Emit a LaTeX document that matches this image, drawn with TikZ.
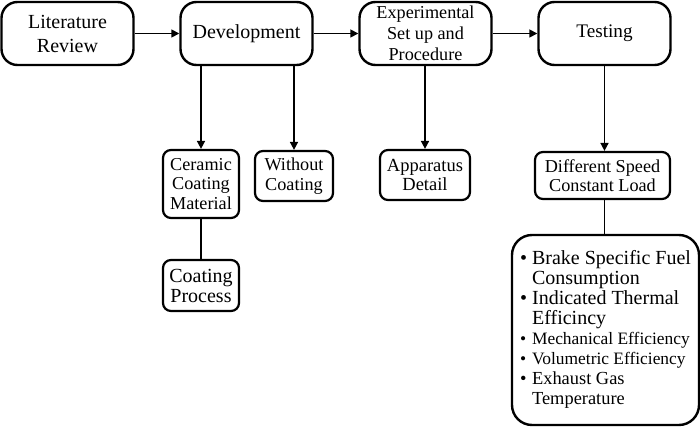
\documentclass[tikz,border=0pt]{standalone}
\usepackage{fontspec}
\setmainfont{Liberation Serif}
\usetikzlibrary{arrows.meta}
\def\fs#1#2{\fontsize{#1}{#2}\selectfont}

\begin{document}
\begin{tikzpicture}[x=0.5pt,y=-0.5pt,->,>={Stealth[inset=0pt,length=4pt,width=4pt]},
		line width=0.8pt,node distance=89.5pt]
		\tikzstyle{stage}=[draw,line width=1.2pt,rounded corners=8pt,minimum width=66pt,
			minimum height=31.5pt,align=center,inner sep=1pt,font=\fs{10}{12}]
		\tikzstyle{sub}=[draw,line width=1.1pt,rounded corners=4pt,align=center,
			inner sep=1.5pt,font=\fs{9.1}{9.8}]
		\useasboundingbox (0,0) rectangle (700,427);
		
		\node[stage] (Lit) at (67.5,33.5) {Literature\\Review};
		\node[stage] (Dev) [right of=Lit] {Development};
		\node[stage,font=\fs{9.1}{10.5}] (Exp) [right of=Dev] {Experimental\\Set up and\\Procedure};
		\node[stage,font=\fs{9.6}{12}] (Test) [right of=Exp] {Testing};
		
		\node[sub,minimum width=38pt,minimum height=34pt] (Cer) at (201,184) {Ceramic\\Coating\\Material};
		\node[sub,minimum width=39pt,minimum height=25pt] (Wo) at (294,176) {Without\\Coating};
		\node[sub,minimum width=38pt,minimum height=25.5pt,font=\fs{10}{10}] (CP) at (201,285.5) {Coating\\Process};
		\node[sub,minimum width=45pt,minimum height=25pt,font=\fs{9.25}{9.8}] (App) at (425,175) {Apparatus\\Detail};
		\node[sub,minimum width=67.5pt,minimum height=23.5pt] (Diff) at (602.5,175.5) {Different Speed\\Constant Load};
		\node[draw,line width=1.2pt,rounded corners=10pt,minimum width=93.5pt,minimum height=95pt,
			inner sep=2pt,font=\fs{10}{10}] (Par) at (605.5,330)
			{\def\arraystretch{1}\begin{tabular}{@{}l@{\hspace{2.5pt}}l@{}}
				\textbullet & Brake Specific Fuel\\
				& Consumption\\
				\textbullet & Indicated Thermal\\
				& Efficincy\\
				\fs{8.7}{10}\textbullet & \fs{8.7}{10}Mechanical Efficiency\\
				\fs{8.7}{10}\textbullet & \fs{8.7}{10}Volumetric Efficiency\\
				\fs{9.2}{10}\textbullet & \fs{9.2}{10}Exhaust Gas\\
				& \fs{9.2}{10}Temperature
			\end{tabular}};
		
		\path
		(Lit) edge (Dev)
		(Dev) edge (Exp)
		(Exp) edge (Test);
		
		\draw (Cer.north |- Dev.south) -- (Cer.north);
		\draw (Wo.north |- Dev.south) -- (Wo.north);
		\draw (App.north |- Exp.south) -- (App.north);
		\draw (Test.south) -- (Test.south |- Diff.north);
		\draw[-] (Test.south |- Diff.south) -- (Test.south |- Par.north);
		\draw[-] (Cer) -- (CP);
	\end{tikzpicture}
\end{document}
